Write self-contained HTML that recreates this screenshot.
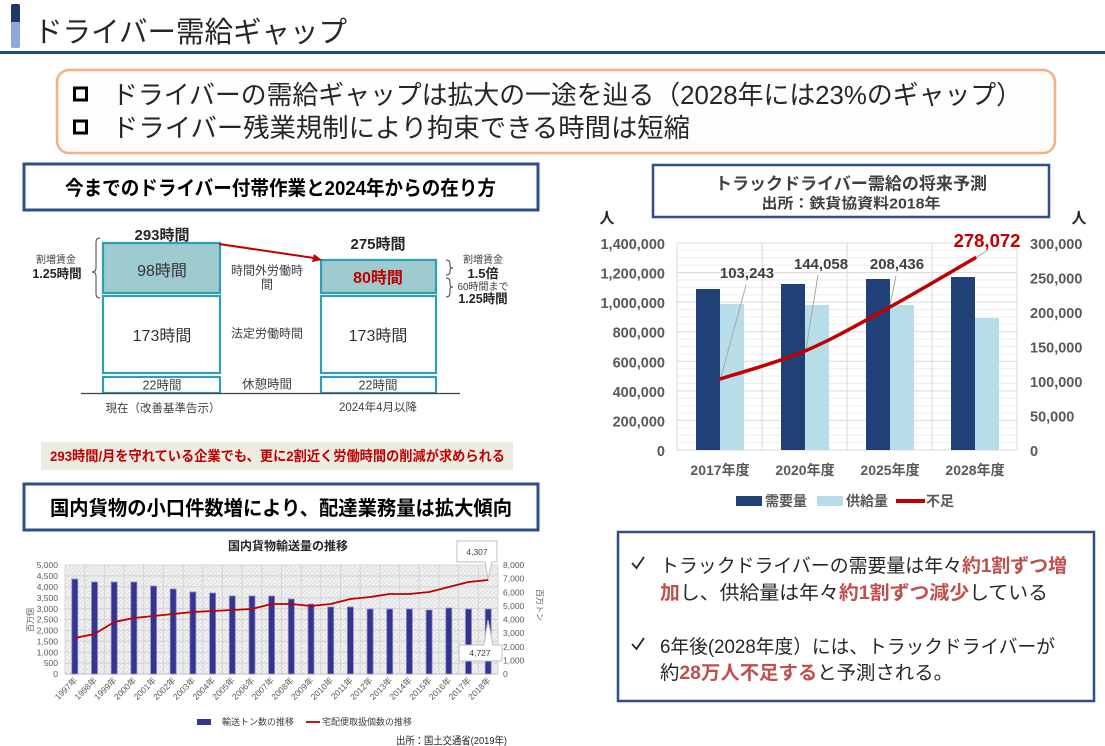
<!DOCTYPE html>
<html><head><meta charset="utf-8">
<style>
html,body{margin:0;padding:0;background:#fff;}
svg{display:block;}
text{font-family:"Liberation Sans","Noto Sans CJK JP",sans-serif;}
</style></head><body>
<svg width="1105" height="746" viewBox="0 0 1105 746" xmlns="http://www.w3.org/2000/svg">
<defs>
<pattern id="hatch" width="3" height="3" patternUnits="userSpaceOnUse" patternTransform="rotate(45)">
<rect width="3" height="3" fill="#F2F2F2"/>
<line x1="0.5" y1="0" x2="0.5" y2="3" stroke="#DCDCDC" stroke-width="1"/>
</pattern>
</defs>

<!-- Header -->
<rect x="11" y="4" width="9" height="44" rx="2" fill="#8EAADB"/>
<path d="M11,22 V6 Q11,4 13,4 H18 Q20,4 20,6 V22 Z" fill="#203864"/>
<text x="34" y="42" font-size="29" fill="#262626" textLength="313" lengthAdjust="spacingAndGlyphs">ドライバー需給ギャップ</text>
<rect x="0" y="51" width="1105" height="3" fill="#1F4E79"/>

<!-- Orange summary box -->
<rect x="57" y="70" width="998" height="83" rx="12" fill="#FFFDFB" stroke="#F4B183" stroke-width="2.5"/>
<rect x="74.5" y="88" width="12" height="12" fill="#fff" stroke="#000" stroke-width="3"/>
<rect x="74.5" y="121" width="12" height="12" fill="#fff" stroke="#000" stroke-width="3"/>
<text x="112" y="104" font-size="26" fill="#262626" textLength="910" lengthAdjust="spacingAndGlyphs">ドライバーの需給ギャップは拡大の一途を辿る（2028年には23%のギャップ）</text>
<text x="112" y="137" font-size="26" fill="#262626" textLength="578" lengthAdjust="spacingAndGlyphs">ドライバー残業規制により拘束できる時間は短縮</text>

<!-- Top-left title box -->
<rect x="24" y="164" width="514" height="46" fill="#fff" stroke="#2F4F8A" stroke-width="3"/>
<text x="65" y="195" font-size="20" font-weight="bold" fill="#000" textLength="431" lengthAdjust="spacingAndGlyphs">今までのドライバー付帯作業と2024年からの在り方</text>

<!-- Diagram -->
<text x="162" y="240" font-size="15" font-weight="bold" fill="#262626" text-anchor="middle">293時間</text>
<text x="378" y="249" font-size="15" font-weight="bold" fill="#262626" text-anchor="middle">275時間</text>
<path d="M100,238 Q96,238 96,242 V268 Q96,272 92,272 Q96,272 96,276 V294 Q96,298 100,298" fill="none" stroke="#404040" stroke-width="1"/>
<text x="56" y="263" font-size="10" fill="#404040" text-anchor="middle">割増賃金</text>
<text x="57" y="278" font-size="12.5" font-weight="bold" fill="#262626" text-anchor="middle">1.25時間</text>

<rect x="103" y="243" width="117" height="50" fill="#9DCBCF" stroke="#2E9FB5" stroke-width="2.2"/>
<rect x="103" y="296" width="117" height="77" fill="#fff" stroke="#2E9FB5" stroke-width="2.2"/>
<rect x="103" y="377" width="117" height="16" fill="#fff" stroke="#2E9FB5" stroke-width="2.2"/>
<text x="162" y="276" font-size="16" fill="#333" text-anchor="middle">98時間</text>
<text x="162" y="341" font-size="16" fill="#333" text-anchor="middle">173時間</text>
<text x="162" y="389.5" font-size="12.5" fill="#404040" text-anchor="middle">22時間</text>

<rect x="321" y="260" width="115" height="33" fill="#9DCBCF" stroke="#2E9FB5" stroke-width="2.2"/>
<rect x="321" y="296" width="115" height="77" fill="#fff" stroke="#2E9FB5" stroke-width="2.2"/>
<rect x="321" y="377" width="115" height="16" fill="#fff" stroke="#2E9FB5" stroke-width="2.2"/>
<text x="378" y="283" font-size="16" font-weight="bold" fill="#C00000" text-anchor="middle">80時間</text>
<text x="378" y="341" font-size="16" fill="#333" text-anchor="middle">173時間</text>
<text x="378" y="389.5" font-size="12.5" fill="#404040" text-anchor="middle">22時間</text>

<line x1="81" y1="393.5" x2="460" y2="393.5" stroke="#404040" stroke-width="1.2"/>
<line x1="219" y1="244" x2="314" y2="258" stroke="#C00000" stroke-width="2"/>
<polygon points="322,260 312,262 314,254" fill="#C00000"/>

<text x="267" y="274.5" font-size="12" fill="#404040" text-anchor="middle">時間外労働時</text>
<text x="267" y="288.5" font-size="12" fill="#404040" text-anchor="middle">間</text>
<text x="267" y="337.5" font-size="12" fill="#404040" text-anchor="middle">法定労働時間</text>
<text x="267" y="388.5" font-size="12.5" fill="#404040" text-anchor="middle">休憩時間</text>

<path d="M446,260 Q450,260 450,264 V266 Q450,268 453,268 Q450,268 450,270 V272 Q450,275 446,275" fill="none" stroke="#404040" stroke-width="1"/>
<path d="M446,278 Q450,278 450,282 V285 Q450,287 453,287 Q450,287 450,289 V293 Q450,297 446,297" fill="none" stroke="#404040" stroke-width="1"/>
<text x="483" y="263" font-size="10" fill="#404040" text-anchor="middle">割増賃金</text>
<text x="483" y="278" font-size="13" font-weight="bold" fill="#262626" text-anchor="middle">1.5倍</text>
<text x="483" y="290" font-size="10" fill="#404040" text-anchor="middle">60時間まで</text>
<text x="483" y="303" font-size="12.5" font-weight="bold" fill="#262626" text-anchor="middle">1.25時間</text>

<text x="163" y="412" font-size="11.5" fill="#404040" text-anchor="middle">現在（改善基準告示）</text>
<text x="378" y="411" font-size="11.5" fill="#404040" text-anchor="middle">2024年4月以降</text>

<rect x="41" y="442" width="472" height="28" fill="#EEECE1"/>
<text x="50" y="461" font-size="14" font-weight="bold" fill="#C00000" textLength="455" lengthAdjust="spacingAndGlyphs">293時間/月を守れている企業でも、更に2割近く労働時間の削減が求められる</text>

<!-- Bottom-left title box -->
<rect x="24" y="484" width="514" height="46" fill="#fff" stroke="#2F4F8A" stroke-width="3"/>
<text x="281" y="515" font-size="20" font-weight="bold" fill="#000" text-anchor="middle" textLength="462" lengthAdjust="spacingAndGlyphs">国内貨物の小口件数増により、配達業務量は拡大傾向</text>

<!-- Bottom-left chart -->
<text x="288" y="550" font-size="12" font-weight="bold" fill="#262626" text-anchor="middle">国内貨物輸送量の推移</text>
<rect x="65" y="565" width="433" height="109" fill="url(#hatch)"/>
<g stroke="#D4D4D4" stroke-width="1">
<line x1="65" y1="565" x2="498" y2="565"/><line x1="65" y1="575.9" x2="498" y2="575.9"/><line x1="65" y1="586.8" x2="498" y2="586.8"/><line x1="65" y1="597.7" x2="498" y2="597.7"/><line x1="65" y1="608.6" x2="498" y2="608.6"/><line x1="65" y1="619.5" x2="498" y2="619.5"/><line x1="65" y1="630.4" x2="498" y2="630.4"/><line x1="65" y1="641.3" x2="498" y2="641.3"/><line x1="65" y1="652.2" x2="498" y2="652.2"/><line x1="65" y1="663.1" x2="498" y2="663.1"/>
<line x1="65" y1="565" x2="65" y2="674"/><line x1="84.7" y1="565" x2="84.7" y2="674"/><line x1="104.4" y1="565" x2="104.4" y2="674"/><line x1="124" y1="565" x2="124" y2="674"/><line x1="143.7" y1="565" x2="143.7" y2="674"/><line x1="163.4" y1="565" x2="163.4" y2="674"/><line x1="183.1" y1="565" x2="183.1" y2="674"/><line x1="202.8" y1="565" x2="202.8" y2="674"/><line x1="222.4" y1="565" x2="222.4" y2="674"/><line x1="242.1" y1="565" x2="242.1" y2="674"/><line x1="261.8" y1="565" x2="261.8" y2="674"/><line x1="281.5" y1="565" x2="281.5" y2="674"/><line x1="301.2" y1="565" x2="301.2" y2="674"/><line x1="320.8" y1="565" x2="320.8" y2="674"/><line x1="340.5" y1="565" x2="340.5" y2="674"/><line x1="360.2" y1="565" x2="360.2" y2="674"/><line x1="379.9" y1="565" x2="379.9" y2="674"/><line x1="399.6" y1="565" x2="399.6" y2="674"/><line x1="419.2" y1="565" x2="419.2" y2="674"/><line x1="438.9" y1="565" x2="438.9" y2="674"/><line x1="458.6" y1="565" x2="458.6" y2="674"/><line x1="478.3" y1="565" x2="478.3" y2="674"/><line x1="498" y1="565" x2="498" y2="674"/>
</g>
<line x1="65" y1="674" x2="498" y2="674" stroke="#BFBFBF" stroke-width="1"/>
<g fill="#35358F" stroke="#8C8CC8" stroke-width="0.8">
<rect x="71.8" y="579" width="6" height="95"/><rect x="91.5" y="582" width="6" height="92"/><rect x="111.2" y="582" width="6" height="92"/><rect x="130.9" y="582" width="6" height="92"/><rect x="150.6" y="586" width="6" height="88"/><rect x="170.2" y="589" width="6" height="85"/><rect x="189.9" y="592" width="6" height="82"/><rect x="209.6" y="593" width="6" height="81"/><rect x="229.3" y="596" width="6" height="78"/><rect x="249" y="596" width="6" height="78"/><rect x="268.6" y="596" width="6" height="78"/><rect x="288.3" y="599" width="6" height="75"/><rect x="308" y="604" width="6" height="70"/><rect x="327.7" y="607" width="6" height="67"/><rect x="347.4" y="607" width="6" height="67"/><rect x="367.1" y="609" width="6" height="65"/><rect x="386.7" y="609" width="6" height="65"/><rect x="406.4" y="609" width="6" height="65"/><rect x="426.1" y="610" width="6" height="64"/><rect x="445.8" y="608" width="6" height="66"/><rect x="465.5" y="609" width="6" height="65"/><rect x="485.2" y="609" width="6" height="65"/>
</g>
<polyline fill="none" stroke="#C00000" stroke-width="1.8" stroke-linejoin="round" points="74.8,638 94.5,634 114.2,622 133.9,618 153.6,616 173.2,614 192.9,612 212.6,611 232.3,610 252,609 271.6,604 291.3,604 311,606 330.7,604 350.4,599 370.1,597 389.7,594 409.4,594 429.1,592 448.8,587 468.5,582 488.2,580"/>
<path d="M457,541 H497 V562 H492 L488,579 L485,562 H457 Z" fill="#fff" stroke="#BFBFBF" stroke-width="1"/>
<text x="477" y="555" font-size="8.5" fill="#404040" text-anchor="middle">4,307</text>
<path d="M459,645 H484 L488,620 L493,645 H502 V661 H459 Z" fill="#fff" stroke="#BFBFBF" stroke-width="1"/>
<text x="480" y="656" font-size="8.5" fill="#404040" text-anchor="middle">4,727</text>
<g font-size="8.5" fill="#595959" text-anchor="end">
<text x="58" y="568">5,000</text><text x="58" y="579">4,500</text><text x="58" y="590">4,000</text><text x="58" y="601">3,500</text><text x="58" y="612">3,000</text><text x="58" y="622.5">2,500</text><text x="58" y="633.5">2,000</text><text x="58" y="644.5">1,500</text><text x="58" y="655.5">1,000</text><text x="58" y="666">500</text><text x="58" y="677">0</text>
</g>
<g font-size="8.5" fill="#595959">
<text x="503" y="568">8,000</text><text x="503" y="581.6">7,000</text><text x="503" y="595.3">6,000</text><text x="503" y="608.9">5,000</text><text x="503" y="622.5">4,000</text><text x="503" y="636.1">3,000</text><text x="503" y="649.8">2,000</text><text x="503" y="663.4">1,000</text><text x="503" y="677">0</text>
</g>
<text transform="translate(33,620) rotate(-90)" font-size="8" fill="#595959" text-anchor="middle">百万個</text>
<text transform="translate(537,605) rotate(90)" font-size="8" fill="#595959" text-anchor="middle">百万トン</text>
<g font-size="8.5" fill="#595959" text-anchor="end">
<text transform="translate(77.8,681) rotate(-45)">1997年</text><text transform="translate(97.5,681) rotate(-45)">1998年</text><text transform="translate(117.2,681) rotate(-45)">1999年</text><text transform="translate(136.9,681) rotate(-45)">2000年</text><text transform="translate(156.6,681) rotate(-45)">2001年</text><text transform="translate(176.2,681) rotate(-45)">2002年</text><text transform="translate(195.9,681) rotate(-45)">2003年</text><text transform="translate(215.6,681) rotate(-45)">2004年</text><text transform="translate(235.3,681) rotate(-45)">2005年</text><text transform="translate(255,681) rotate(-45)">2006年</text><text transform="translate(274.6,681) rotate(-45)">2007年</text><text transform="translate(294.3,681) rotate(-45)">2008年</text><text transform="translate(314,681) rotate(-45)">2009年</text><text transform="translate(333.7,681) rotate(-45)">2010年</text><text transform="translate(353.4,681) rotate(-45)">2011年</text><text transform="translate(373.1,681) rotate(-45)">2012年</text><text transform="translate(392.7,681) rotate(-45)">2013年</text><text transform="translate(412.4,681) rotate(-45)">2014年</text><text transform="translate(432.1,681) rotate(-45)">2015年</text><text transform="translate(451.8,681) rotate(-45)">2016年</text><text transform="translate(471.5,681) rotate(-45)">2017年</text><text transform="translate(491.2,681) rotate(-45)">2018年</text>
</g>
<rect x="197" y="719" width="14" height="6" fill="#35358F"/>
<text x="222" y="725" font-size="9" fill="#404040">輸送トン数の推移</text>
<line x1="306" y1="722" x2="320" y2="722" stroke="#C00000" stroke-width="1.8"/>
<text x="322" y="725" font-size="9" fill="#404040">宅配便取扱個数の推移</text>
<text x="396" y="744" font-size="10.5" fill="#262626" textLength="111" lengthAdjust="spacingAndGlyphs">出所：国土交通省(2019年)</text>

<!-- Right chart title -->
<rect x="653" y="165" width="396" height="52" fill="#fff" stroke="#2F4F8A" stroke-width="2.5"/>
<text x="851" y="189.5" font-size="17" font-weight="bold" fill="#404040" text-anchor="middle" textLength="272" lengthAdjust="spacingAndGlyphs">トラックドライバー需給の将来予測</text>
<text x="851" y="208.5" font-size="14.5" font-weight="bold" fill="#404040" text-anchor="middle" textLength="179" lengthAdjust="spacingAndGlyphs">出所：鉄貨協資料2018年</text>
<text x="607" y="223" font-size="15" font-weight="bold" fill="#262626" text-anchor="middle">人</text>
<text x="1079" y="223" font-size="15" font-weight="bold" fill="#262626" text-anchor="middle">人</text>

<!-- Right chart grid -->
<g stroke="#EDEDED" stroke-width="1">
<line x1="677" y1="250.4" x2="1017" y2="250.4"/><line x1="677" y1="257.8" x2="1017" y2="257.8"/><line x1="677" y1="265.2" x2="1017" y2="265.2"/>
<line x1="677" y1="280" x2="1017" y2="280"/><line x1="677" y1="287.4" x2="1017" y2="287.4"/><line x1="677" y1="294.8" x2="1017" y2="294.8"/>
<line x1="677" y1="309.5" x2="1017" y2="309.5"/><line x1="677" y1="316.9" x2="1017" y2="316.9"/><line x1="677" y1="324.3" x2="1017" y2="324.3"/>
<line x1="677" y1="339.1" x2="1017" y2="339.1"/><line x1="677" y1="346.5" x2="1017" y2="346.5"/><line x1="677" y1="353.9" x2="1017" y2="353.9"/>
<line x1="677" y1="368.7" x2="1017" y2="368.7"/><line x1="677" y1="376.1" x2="1017" y2="376.1"/><line x1="677" y1="383.5" x2="1017" y2="383.5"/>
<line x1="677" y1="398.3" x2="1017" y2="398.3"/><line x1="677" y1="405.6" x2="1017" y2="405.6"/><line x1="677" y1="413" x2="1017" y2="413"/>
<line x1="677" y1="427.8" x2="1017" y2="427.8"/><line x1="677" y1="435.2" x2="1017" y2="435.2"/><line x1="677" y1="442.6" x2="1017" y2="442.6"/>
</g>
<g stroke="#D9D9D9" stroke-width="1">
<line x1="677" y1="243" x2="1017" y2="243"/><line x1="677" y1="272.6" x2="1017" y2="272.6"/><line x1="677" y1="302.1" x2="1017" y2="302.1"/><line x1="677" y1="331.7" x2="1017" y2="331.7"/><line x1="677" y1="361.3" x2="1017" y2="361.3"/><line x1="677" y1="390.9" x2="1017" y2="390.9"/><line x1="677" y1="420.4" x2="1017" y2="420.4"/>
<line x1="677" y1="243" x2="677" y2="450"/><line x1="762" y1="243" x2="762" y2="450"/><line x1="847" y1="243" x2="847" y2="450"/><line x1="932" y1="243" x2="932" y2="450"/><line x1="1017" y1="243" x2="1017" y2="450"/>
<line x1="677" y1="450" x2="1017" y2="450"/>
</g>
<!-- bars -->
<g fill="#1F4178">
<rect x="696" y="289" width="24" height="161"/><rect x="781" y="284" width="24" height="166"/><rect x="866" y="279" width="24" height="171"/><rect x="951" y="277" width="24" height="173"/>
</g>
<g fill="#B7DEE8">
<rect x="720" y="304" width="24" height="146"/><rect x="805" y="305" width="24" height="145"/><rect x="890" y="305" width="24" height="145"/><rect x="975" y="318" width="24" height="132"/>
</g>
<!-- leaders -->
<g stroke="#A6A6A6" stroke-width="1">
<line x1="746" y1="285" x2="721" y2="377"/><line x1="818" y1="275" x2="806" y2="349"/><line x1="896" y1="276" x2="890" y2="305"/><line x1="988" y1="250" x2="977" y2="257"/>
</g>
<path d="M720,379 C734.2,374.3 776.7,363 805,351 C833.3,339 861.7,322.5 890,307 C918.3,291.5 960.8,266.2 975,258" fill="none" stroke="#C00000" stroke-width="3.5" stroke-linecap="round"/>
<g font-size="15" font-weight="bold" fill="#404040" text-anchor="middle">
<text x="747" y="278">103,243</text><text x="821" y="269">144,058</text><text x="897" y="269">208,436</text>
</g>
<text x="987" y="247" font-size="18.5" font-weight="bold" fill="#C00000" text-anchor="middle">278,072</text>
<g font-size="14.5" font-weight="bold" fill="#595959" text-anchor="end">
<text x="665" y="249">1,400,000</text><text x="665" y="278.6">1,200,000</text><text x="665" y="308.1">1,000,000</text><text x="665" y="337.7">800,000</text><text x="665" y="367.3">600,000</text><text x="665" y="396.9">400,000</text><text x="665" y="426.4">200,000</text><text x="665" y="456">0</text>
</g>
<g font-size="14.5" font-weight="bold" fill="#595959">
<text x="1030" y="249">300,000</text><text x="1030" y="283.5">250,000</text><text x="1030" y="318">200,000</text><text x="1030" y="352.5">150,000</text><text x="1030" y="387">100,000</text><text x="1030" y="421.5">50,000</text><text x="1030" y="456">0</text>
</g>
<g font-size="14" font-weight="bold" fill="#595959" text-anchor="middle">
<text x="720" y="475">2017年度</text><text x="805" y="475">2020年度</text><text x="890" y="475">2025年度</text><text x="975" y="475">2028年度</text>
</g>
<rect x="736" y="496" width="26" height="10" fill="#1F4178"/>
<text x="765" y="506" font-size="14" font-weight="bold" fill="#595959">需要量</text>
<rect x="817" y="496" width="26" height="10" fill="#B7DEE8"/>
<text x="846" y="506" font-size="14" font-weight="bold" fill="#595959">供給量</text>
<line x1="896" y1="501" x2="925" y2="501" stroke="#C00000" stroke-width="4"/>
<text x="926" y="506" font-size="14" font-weight="bold" fill="#595959">不足</text>

<!-- Bottom-right text box -->
<rect x="618" y="532" width="476" height="169" fill="#fff" stroke="#2F4F8A" stroke-width="2.5"/>
<path d="M632,563 L636.5,568 L644,557" fill="none" stroke="#262626" stroke-width="1.8"/>
<path d="M632,644 L636.5,649 L644,638" fill="none" stroke="#262626" stroke-width="1.8"/>
<text x="660" y="572" font-size="19" fill="#262626" textLength="407" lengthAdjust="spacingAndGlyphs">トラックドライバーの需要量は年々<tspan font-weight="bold" fill="#C0504D">約1割ずつ増</tspan></text>
<text x="660" y="599" font-size="19" fill="#262626" textLength="388" lengthAdjust="spacingAndGlyphs"><tspan font-weight="bold" fill="#C0504D">加</tspan>し、供給量は年々<tspan font-weight="bold" fill="#C0504D">約1割ずつ減少</tspan>している</text>
<text x="660" y="653" font-size="19" fill="#262626" textLength="395" lengthAdjust="spacingAndGlyphs">6年後(2028年度）には、トラックドライバーが</text>
<text x="660" y="679" font-size="19" fill="#262626" textLength="293" lengthAdjust="spacingAndGlyphs">約<tspan font-weight="bold" fill="#C0504D">28万人不足する</tspan>と予測される。</text>
</svg>
</body></html>
